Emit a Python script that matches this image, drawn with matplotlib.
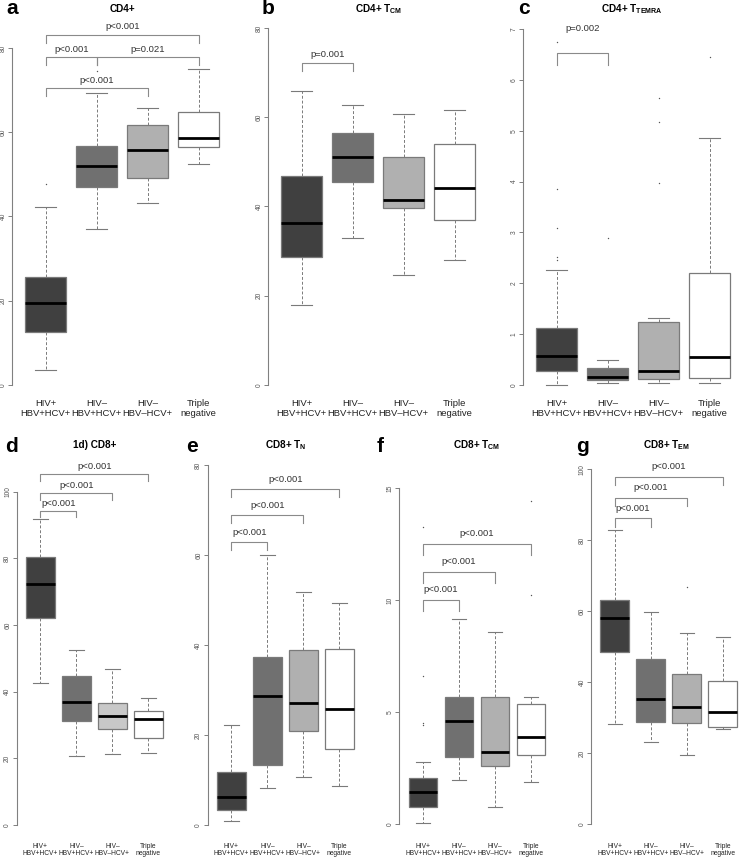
import matplotlib.pyplot as plt

plt.rcParams['font.family'] = ['Liberation Sans', 'DejaVu Sans']
plt.rcParams['mathtext.fontset'] = 'custom'
plt.rcParams['mathtext.bf'] = 'Liberation Sans:bold'
plt.rcParams['mathtext.rm'] = 'Liberation Sans'

groups = ['HIV+\nHBV+HCV+', 'HIV–\nHBV+HCV+', 'HIV–\nHBV–HCV+', 'Triple\nnegative']

# a) CD4+
a_med = [19.5, 52.1, 55.8, 58.7]
a_q1 = [12.7, 46.9, 49.1, 56.6]
a_q3 = [25.7, 56.7, 61.7, 64.9]
a_lo = [3.6, 37.0, 43.1, 52.4]
a_hi = [42.2, 69.2, 65.7, 74.9]
a_out = [[47.6], [74.5], [], []]
a_tests = [(1, 4, 'p<0.001'), (1, 2, 'p<0.001'), (2, 4, 'p=0.021'), (1, 3, 'p<0.001')]

# b) CD4+ TCM
b_med = [36.2, 51.0, 41.4, 44.1]
b_q1 = [28.6, 45.6, 39.6, 36.9]
b_q3 = [46.8, 56.5, 51.2, 53.9]
b_lo = [17.9, 32.9, 24.6, 28.0]
b_hi = [65.9, 62.7, 60.8, 61.7]
b_out = [[], [], [], []]
b_tests = [(1, 2, 'p=0.001')]

# c) CD4+ TTEMRA
c_med = [0.58, 0.16, 0.28, 0.55]
c_q1 = [0.27, 0.09, 0.12, 0.14]
c_q3 = [1.13, 0.33, 1.23, 2.20]
c_lo = [0.0, 0.03, 0.03, 0.03]
c_hi = [2.27, 0.49, 1.32, 4.86]
c_out = [[2.45, 2.52, 3.08, 3.86, 6.74], [2.90], [3.98, 5.18, 5.65], [6.44]]
c_tests = [(1, 2, 'p=0.002')]

# d) CD8+
d_med = [72.2, 37.0, 32.8, 31.7]
d_q1 = [62.0, 31.2, 28.7, 26.0]
d_q3 = [80.3, 44.8, 36.5, 34.3]
d_lo = [42.5, 20.7, 21.3, 21.5]
d_hi = [91.7, 52.5, 46.7, 38.2]
d_out = [[], [], [], []]
d_tests = [(1, 2, 'p<0.001'), (1, 3, 'p<0.001'), (1, 4, 'p<0.001')]

# e) CD8+ TN
e_med = [6.3, 28.6, 27.2, 25.8]
e_q1 = [3.3, 13.4, 20.9, 16.8]
e_q3 = [11.7, 37.3, 39.0, 39.2]
e_lo = [0.8, 8.2, 10.6, 8.7]
e_hi = [22.2, 60.1, 51.7, 49.3]
e_out = [[], [], [], []]
e_tests = [(1, 2, 'p<0.001'), (1, 3, 'p<0.001'), (1, 4, 'p<0.001')]

# f) CD8+ TCM
f_med = [1.46, 4.61, 3.24, 3.88]
f_q1 = [0.79, 3.02, 2.60, 3.10]
f_q3 = [2.08, 5.70, 5.70, 5.36]
f_lo = [0.07, 1.98, 0.76, 1.90]
f_hi = [2.80, 9.15, 8.60, 5.70]
f_out = [[4.43, 4.51, 6.64, 13.29], [], [], [10.24, 14.43]]
f_tests = [(1, 2, 'p<0.001'), (1, 3, 'p<0.001'), (1, 4, 'p<0.001')]

# g) CD8+ TEM
g_med = [58.0, 35.3, 33.1, 31.7]
g_q1 = [48.6, 28.9, 28.5, 27.5]
g_q3 = [63.2, 46.5, 42.3, 40.4]
g_lo = [28.2, 23.1, 19.5, 26.8]
g_hi = [82.9, 59.9, 53.8, 52.7]
g_out = [[], [], [66.8], []]
g_tests = [(1, 2, 'p<0.001'), (1, 3, 'p<0.001'), (1, 4, 'p<0.001')]

W, H = 741, 858
fig = plt.figure(figsize=(W / 100, H / 100), dpi=100)

fills = ['#404040', '#707070', '#b0b0b0', 'white']
edge = '#7a7a7a'

# layout in pixels: left, top, bottom, zero line, px per unit (y), px per unit (x),
# axis max, tick step, bracket heights, leg length, text gap
panels = [
    dict(letter='a', lpos=(6, 9), title='CD4+', ty=9, left=12, top=22, bottom=392, zero=385,
         ppu=4.2125, xppu=51, ymax=80, step=20, fs=6.8, stats=(a_med, a_q1, a_q3, a_lo, a_hi, a_out),
         tests=a_tests, by=[83.1, 77.8, 77.8, 70.4], leg=8, gap=8),
    dict(letter='b', lpos=(262, 9), title=r'CD4+ T$_{\mathbf{CM}}$', ty=9, left=268, top=22, bottom=392,
         zero=385, ppu=4.4625, xppu=51, ymax=80, step=20, fs=6.8, stats=(b_med, b_q1, b_q3, b_lo, b_hi, b_out),
         tests=b_tests, by=[72.2], leg=8.5, gap=8),
    dict(letter='c', lpos=(518, 9), title=r'CD4+ T$_{\mathbf{TEMRA}}$', ty=9, left=523, top=22, bottom=392,
         zero=385, ppu=50.86, xppu=51, ymax=7, step=1, fs=6.8, stats=(c_med, c_q1, c_q3, c_lo, c_hi, c_out),
         tests=c_tests, by=[6.53], leg=12, gap=24),
    dict(letter='d', lpos=(5, 446), title='1d) CD8+', ty=445, left=16.7, top=455, bottom=830, zero=825,
         ppu=3.333, xppu=36, ymax=100, step=20, fs=4.8, stats=(d_med, d_q1, d_q3, d_lo, d_hi, d_out),
         tests=d_tests, by=[94.3, 99.5, 105.3], leg=6.7, gap=7.5),
    dict(letter='e', lpos=(186, 446), title=r'CD8+ T$_{\mathbf{N}}$', ty=445, left=207.7, top=455, bottom=830,
         zero=825, ppu=4.5, xppu=36, ymax=80, step=20, fs=4.8, stats=(e_med, e_q1, e_q3, e_lo, e_hi, e_out),
         tests=e_tests, by=[63.0, 68.9, 74.7], leg=8, gap=9),
    dict(letter='f', lpos=(377, 446), title=r'CD8+ T$_{\mathbf{CM}}$', ty=445, left=399.3, top=455, bottom=830,
         zero=824.3, ppu=22.4, xppu=36, ymax=15, step=5, fs=4.8, stats=(f_med, f_q1, f_q3, f_lo, f_hi, f_out),
         tests=f_tests, by=[10.0, 11.25, 12.5], leg=11, gap=11),
    dict(letter='g', lpos=(576, 446), title=r'CD8+ T$_{\mathbf{EM}}$', ty=445, left=591, top=455, bottom=830,
         zero=824.3, ppu=3.55, xppu=36, ymax=100, step=20, fs=4.8, stats=(g_med, g_q1, g_q3, g_lo, g_hi, g_out),
         tests=g_tests, by=[86.2, 92.0, 97.9], leg=8.5, gap=10),
]

for p in panels:
    width = min(4.32 * p['xppu'], W - p['left'])
    ax = fig.add_axes([p['left'] / W, (H - p['bottom']) / H, width / W, (p['bottom'] - p['top']) / H])
    ax.patch.set_alpha(0)
    med, q1, q3, lo, hi, out = p['stats']
    bstats = []
    for i in range(4):
        bstats.append(dict(med=med[i], q1=q1[i], q3=q3[i], whislo=lo[i], whishi=hi[i], fliers=out[i]))
    colors = list(fills)
    if p['letter'] == 'd':
        colors[2] = '#c8c8c8'
    bp = ax.bxp(bstats, positions=[1, 2, 3, 4], widths=0.8, capwidths=0.4, patch_artist=True,
                boxprops=dict(edgecolor=edge, linewidth=0.9),
                medianprops=dict(color='black', linewidth=2.0),
                whiskerprops=dict(color=edge, linewidth=0.7, linestyle=(0, (3, 2))),
                capprops=dict(color=edge, linewidth=0.8),
                flierprops=dict(marker='.', markersize=2, markerfacecolor='#555555', markeredgecolor='none'))
    for patch, c in zip(bp['boxes'], colors):
        patch.set_facecolor(c)

    ax.set_xlim(0.34, 0.34 + width / p['xppu'])
    ax.set_ylim(-(p['bottom'] - p['zero']) / p['ppu'], (p['zero'] - p['top']) / p['ppu'])
    for s in ['top', 'right', 'bottom']:
        ax.spines[s].set_visible(False)
    ax.spines['left'].set_bounds(0, p['ymax'])
    ax.spines['left'].set_color('#808080')
    ax.spines['left'].set_linewidth(0.8)
    ticks = list(range(0, p['ymax'] + 1, p['step']))
    ax.set_yticks(ticks)
    ax.set_yticklabels([str(t) for t in ticks], rotation=90, va='center', fontsize=4.8, color='#555555')
    ax.tick_params(axis='y', length=3, width=0.7, color='#808080', pad=1)
    ax.set_xticks([1, 2, 3, 4])
    xpad = 5 if p['top'] < 100 else 9
    ax.set_xticklabels(groups, fontsize=p['fs'], linespacing=1.15, color='#222222')
    ax.tick_params(axis='x', length=0, pad=xpad)

    # significance brackets
    for (i, j, txt), y in zip(p['tests'], p['by']):
        leg = p['leg'] / p['ppu']
        ax.plot([i, i, j, j], [y - leg, y, y, y - leg], color='#8a8a8a', lw=0.8, clip_on=False)
        ax.text((i + j) / 2, y + p['gap'] / p['ppu'], txt, ha='center', va='center',
                fontsize=6.8, color='#333333', clip_on=False)

    cx = (p['left'] + width / 2) / W
    fig.text(cx, 1 - p['ty'] / H, p['title'], ha='center', va='center', fontsize=7.2,
             fontweight='bold')
    fig.text(p['lpos'][0] / W, 1 - p['lpos'][1] / H, p['letter'], ha='left', va='center',
             fontsize=15, fontweight='bold')

fig.savefig('out.png', dpi=100)
